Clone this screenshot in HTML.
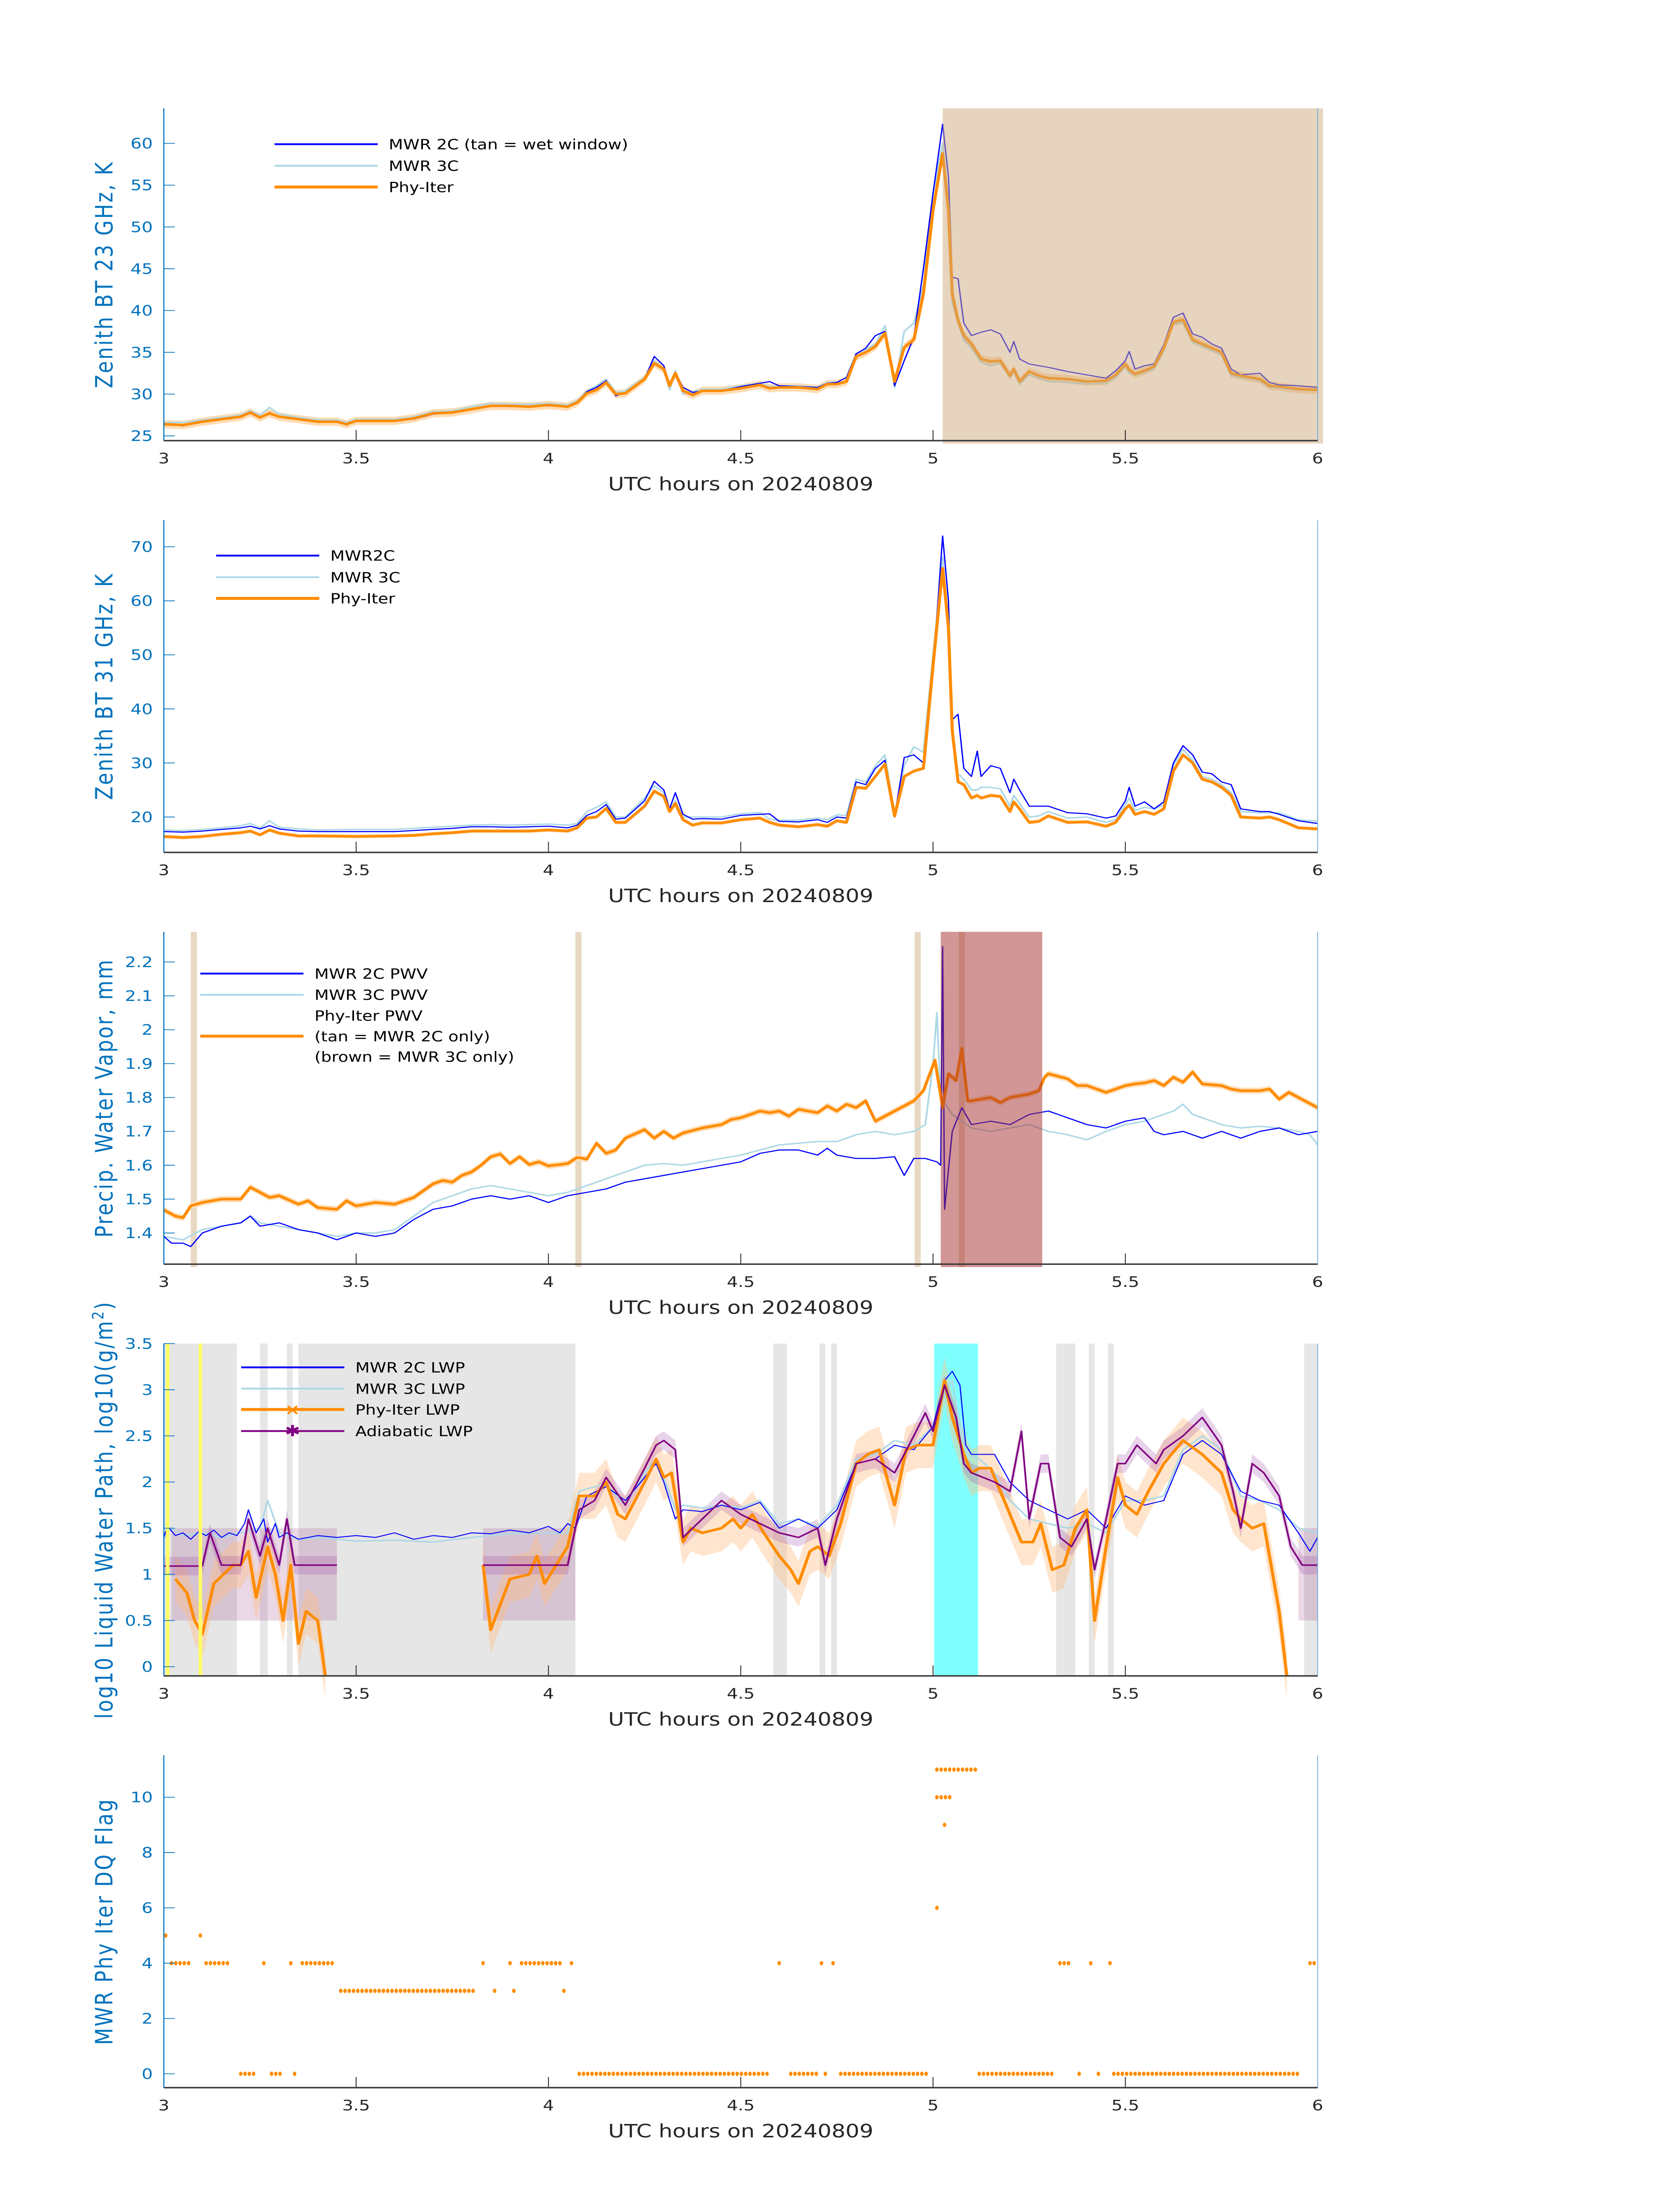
<!DOCTYPE html>
<html><head><meta charset="utf-8"><title>MWR Phy-Iter diagnostics 20240809</title>
<style>html,body{margin:0;padding:0;background:#fff;width:100%;height:100%;overflow:hidden}svg{display:block;position:absolute;left:0;top:0;width:100vw;height:100vh;overflow:hidden}text{font-family:"DejaVu Sans","Liberation Sans",sans-serif}</style>
</head><body>
<svg id="fig" xmlns="http://www.w3.org/2000/svg" viewBox="0 0 3825 6000" preserveAspectRatio="none"></svg>
<script>
// ---------- Panel 1: 23 GHz ----------
const t23 = [3.0,3.05,3.1,3.15,3.2,3.225,3.25,3.275,3.3,3.35,3.4,3.45,3.475,3.5,3.55,3.6,3.65,3.7,3.75,3.8,3.85,3.9,3.95,4.0,4.05,4.075,4.1,4.125,4.15,4.175,4.2,4.25,4.275,4.3,4.315,4.33,4.35,4.375,4.4,4.45,4.5,4.55,4.575,4.6,4.65,4.7,4.725,4.75,4.775,4.8,4.825,4.85,4.875,4.9,4.925,4.95,4.975,5.0,5.025,5.04,5.05,5.065,5.08,5.1,5.125,5.15,5.175,5.2,5.21,5.225,5.25,5.275,5.3,5.35,5.4,5.45,5.475,5.5,5.51,5.525,5.55,5.575,5.6,5.625,5.65,5.675,5.7,5.725,5.75,5.775,5.8,5.85,5.875,5.9,5.95,6.0];
const phy23 = [26.4,26.3,26.7,27.0,27.3,27.8,27.2,27.7,27.3,27.0,26.7,26.7,26.4,26.8,26.8,26.8,27.1,27.7,27.8,28.2,28.6,28.6,28.5,28.7,28.5,29.0,30.1,30.5,31.4,30.0,30.1,31.8,33.7,33.0,31.0,32.5,30.4,29.9,30.4,30.4,30.7,31.1,30.7,30.8,30.8,30.6,31.2,31.2,31.5,34.5,35.0,35.7,37.3,31.5,35.6,36.5,42.0,52,58.8,52,42,38.8,37.0,36.0,34.2,33.9,34.0,32.2,33.0,31.5,32.7,32.2,31.9,31.8,31.5,31.6,32.3,33.6,32.9,32.4,32.8,33.3,35.5,38.6,38.9,36.5,36.0,35.5,35.0,32.5,32.2,31.8,31.0,30.9,30.6,30.5];
const c2_23 = [26.4,26.2,26.7,27.0,27.3,27.9,27.2,27.8,27.3,27.0,26.7,26.7,26.3,26.8,26.8,26.8,27.0,27.6,27.8,28.2,28.6,28.5,28.6,28.6,28.5,29.0,30.3,30.8,31.6,29.8,30.2,31.8,34.5,33.4,31.2,32.6,30.8,30.2,30.4,30.4,30.9,31.3,31.5,31.0,30.9,30.8,31.3,31.4,32.0,34.8,35.5,37.0,37.5,31.0,34.0,36.8,45,54,62.3,56,44,43.8,38.5,37.0,37.4,37.7,37.2,35.0,36.3,34.2,33.6,33.4,33.2,32.7,32.3,31.9,32.8,34.0,35.1,33.0,33.4,33.6,35.9,39.2,39.7,37.2,36.8,36.0,35.5,33.0,32.3,32.5,31.4,31.1,31.0,30.8];
const c3_23 = [26.6,26.6,26.9,27.2,27.5,28.0,27.5,28.4,27.6,27.2,26.9,26.9,26.6,27.0,27.0,27.0,27.3,27.9,28.0,28.5,28.9,28.8,28.8,28.9,28.7,29.2,30.4,31.0,31.8,30.2,30.4,32.0,34.0,33.0,30.5,32.8,30.0,30.3,30.6,30.6,31.0,31.3,30.9,31.0,31.0,30.8,31.4,31.4,31.5,34.9,35.3,36.0,38.2,30.8,37.5,38.5,43,54,60,52,41,38.5,36.5,35.5,33.8,33.4,33.7,32.0,32.6,31.2,32.3,31.9,31.5,31.4,31.2,31.3,32.0,33.3,32.5,32.3,32.6,33.0,35.2,38.4,38.5,36.2,35.7,35.2,34.7,32.2,32.0,31.6,30.8,30.7,30.5,30.4];
const yTicks23 = [25,30,35,40,45,50,55,60];
// ---------- Panel 2: 31 GHz ----------
const t31 = [3.0,3.05,3.1,3.15,3.2,3.225,3.25,3.275,3.3,3.35,3.4,3.5,3.6,3.65,3.7,3.75,3.8,3.85,3.9,3.95,4.0,4.05,4.075,4.1,4.125,4.15,4.175,4.2,4.25,4.275,4.3,4.315,4.33,4.35,4.375,4.4,4.45,4.5,4.55,4.575,4.6,4.65,4.7,4.725,4.75,4.775,4.8,4.825,4.85,4.875,4.9,4.925,4.95,4.975,5.0,5.025,5.04,5.05,5.065,5.08,5.1,5.115,5.125,5.15,5.175,5.2,5.21,5.225,5.25,5.275,5.3,5.35,5.4,5.45,5.475,5.5,5.51,5.525,5.55,5.575,5.6,5.625,5.65,5.675,5.7,5.725,5.75,5.775,5.8,5.85,5.875,5.9,5.95,6.0];
const phy31 = [16.4,16.2,16.4,16.8,17.1,17.4,16.7,17.6,17.0,16.5,16.5,16.4,16.5,16.6,16.9,17.1,17.4,17.4,17.4,17.4,17.6,17.4,18.0,19.8,20.0,21.6,19.0,19.0,22.0,24.8,23.8,21.0,22.5,19.5,18.5,18.9,18.9,19.5,19.8,19.0,18.5,18.2,18.6,18.3,19.3,19.0,25.5,25.3,27.5,29.8,20.2,27.5,28.5,29.0,48,66,55,36,26.5,26.0,23.5,24.0,23.5,24.0,23.8,21.0,22.8,21.5,19.0,19.2,20.2,19.0,19.1,18.3,19.0,21.5,22.2,20.5,21.0,20.5,21.5,28.5,31.5,30.0,27.0,26.5,25.5,24.0,20.0,19.8,20.0,19.5,18.0,17.8];
const c2_31 = [17.3,17.2,17.4,17.7,18.0,18.3,17.8,18.4,17.8,17.4,17.3,17.3,17.3,17.5,17.7,17.9,18.2,18.2,18.1,18.2,18.3,18.0,18.5,20.3,21.0,22.3,19.6,19.8,23.0,26.6,25.0,21.5,24.5,20.5,19.6,19.7,19.6,20.3,20.5,20.6,19.2,19.1,19.5,19.0,20.0,19.8,26.5,26.0,29.0,30.5,20.0,31.0,31.5,30.0,47,72,60,38,39,29.0,27.5,32.2,27.5,29.5,29.0,24.5,27.0,25.0,22.0,22.0,22.0,20.8,20.6,19.8,20.2,23.0,25.5,22.0,22.8,21.5,22.8,30.0,33.2,31.5,28.3,28.0,26.5,26.0,21.5,21.0,21.0,20.5,19.3,18.8];
const c3_31 = [17.6,17.5,17.7,18.0,18.4,18.8,18.0,19.3,18.1,17.8,17.6,17.7,17.7,17.9,18.1,18.3,18.5,18.6,18.5,18.6,18.7,18.5,18.8,21.0,21.8,22.8,20.0,20.0,23.5,25.8,24.5,21.0,23.0,20.0,20.0,20.0,20.0,20.6,20.8,19.6,19.4,19.4,19.8,19.5,20.4,20.3,27.0,26.5,29.5,31.5,20.5,29.5,33.0,32.0,50,68,55,36,28,27.0,25.0,25.0,25.5,25.5,25.2,22.0,24.0,22.5,20.0,20.2,21.0,19.8,20.0,19.0,19.5,22.3,23.5,21.2,21.8,21.5,22.3,29.5,32.5,30.5,27.5,27.0,26.0,24.5,21.0,20.8,20.8,20.8,19.5,19.2];
const yTicks31 = [20,30,40,50,60,70];
// ---------- Panel 3: PWV ----------
const tPhyPwv = [3.0,3.03,3.05,3.07,3.1,3.15,3.2,3.225,3.25,3.275,3.3,3.35,3.375,3.4,3.45,3.475,3.5,3.55,3.6,3.65,3.7,3.725,3.75,3.775,3.8,3.825,3.85,3.875,3.9,3.925,3.95,3.975,4.0,4.05,4.075,4.1,4.125,4.15,4.175,4.2,4.25,4.275,4.3,4.325,4.35,4.4,4.45,4.475,4.5,4.55,4.575,4.6,4.625,4.65,4.7,4.725,4.75,4.775,4.8,4.825,4.85,4.875,4.95,4.975,5.005,5.025,5.04,5.06,5.075,5.09,5.1,5.15,5.175,5.2,5.25,5.275,5.29,5.3,5.35,5.375,5.4,5.45,5.475,5.5,5.525,5.55,5.575,5.6,5.625,5.65,5.675,5.7,5.75,5.775,5.8,5.85,5.875,5.9,5.925,5.95,6.0];
const phyPwv = [1.468,1.45,1.445,1.48,1.49,1.50,1.50,1.535,1.52,1.505,1.51,1.485,1.495,1.475,1.47,1.495,1.48,1.49,1.485,1.505,1.545,1.555,1.55,1.57,1.58,1.60,1.625,1.633,1.605,1.625,1.602,1.61,1.598,1.605,1.623,1.618,1.665,1.635,1.645,1.68,1.705,1.68,1.70,1.68,1.695,1.71,1.72,1.735,1.74,1.76,1.755,1.76,1.745,1.765,1.755,1.775,1.76,1.78,1.77,1.79,1.73,1.745,1.79,1.82,1.91,1.77,1.87,1.85,1.945,1.79,1.79,1.80,1.785,1.80,1.81,1.82,1.86,1.87,1.855,1.835,1.835,1.815,1.825,1.835,1.84,1.843,1.85,1.835,1.86,1.845,1.875,1.84,1.835,1.825,1.82,1.82,1.825,1.795,1.815,1.80,1.77];
const t2cPwv = [3.0,3.02,3.05,3.07,3.1,3.15,3.2,3.225,3.25,3.3,3.35,3.4,3.45,3.5,3.55,3.6,3.65,3.7,3.75,3.8,3.85,3.9,3.95,4.0,4.05,4.1,4.15,4.2,4.25,4.3,4.35,4.4,4.45,4.5,4.55,4.6,4.65,4.7,4.725,4.75,4.8,4.85,4.9,4.925,4.95,4.98,5.01,5.02,5.025,5.03,5.05,5.075,5.1,5.15,5.2,5.25,5.3,5.35,5.4,5.45,5.5,5.55,5.575,5.6,5.65,5.7,5.75,5.8,5.85,5.9,5.95,6.0];
const c2Pwv = [1.39,1.37,1.37,1.36,1.40,1.42,1.43,1.45,1.42,1.43,1.41,1.40,1.38,1.40,1.39,1.40,1.44,1.47,1.48,1.50,1.51,1.50,1.51,1.49,1.51,1.52,1.53,1.55,1.56,1.57,1.58,1.59,1.60,1.61,1.635,1.645,1.645,1.63,1.65,1.63,1.62,1.62,1.625,1.57,1.62,1.62,1.61,1.60,2.245,1.47,1.70,1.77,1.72,1.73,1.72,1.75,1.76,1.74,1.72,1.71,1.73,1.74,1.70,1.69,1.70,1.68,1.70,1.68,1.70,1.71,1.69,1.70];
const t3cPwv = [3.0,3.05,3.1,3.15,3.2,3.225,3.25,3.3,3.35,3.4,3.45,3.5,3.55,3.6,3.65,3.7,3.75,3.8,3.85,3.9,3.95,4.0,4.05,4.1,4.15,4.2,4.25,4.3,4.35,4.4,4.45,4.5,4.55,4.6,4.65,4.7,4.75,4.8,4.85,4.9,4.95,4.98,5.0,5.01,5.02,5.05,5.1,5.15,5.2,5.25,5.3,5.35,5.4,5.45,5.5,5.55,5.6,5.625,5.65,5.675,5.7,5.75,5.8,5.85,5.9,5.95,5.98,6.0];
const c3Pwv = [1.39,1.38,1.41,1.42,1.43,1.45,1.43,1.42,1.41,1.40,1.39,1.40,1.40,1.41,1.45,1.49,1.51,1.53,1.54,1.53,1.52,1.51,1.52,1.54,1.56,1.58,1.60,1.605,1.60,1.61,1.62,1.63,1.645,1.66,1.665,1.67,1.67,1.69,1.70,1.69,1.70,1.72,1.90,2.05,1.80,1.75,1.71,1.70,1.71,1.72,1.70,1.69,1.675,1.70,1.72,1.73,1.75,1.76,1.78,1.75,1.74,1.72,1.71,1.715,1.71,1.70,1.69,1.66];
const tanWindowsPwv = [3.078,4.078,4.96,5.075];
const brownStart = 5.02, brownEnd = 5.284;
const yTicksPwv = [1.4,1.5,1.6,1.7,1.8,1.9,2.0,2.1,2.2];
// ---------- Panel 4: LWP ----------
const t2cLwp = [3.0,3.01,3.03,3.05,3.07,3.09,3.11,3.13,3.15,3.17,3.19,3.21,3.22,3.24,3.26,3.27,3.29,3.3,3.32,3.35,3.4,3.45,3.5,3.55,3.6,3.65,3.7,3.75,3.8,3.85,3.9,3.95,4.0,4.03,4.05,4.07,4.1,4.15,4.2,4.25,4.28,4.3,4.33,4.35,4.4,4.45,4.5,4.55,4.6,4.65,4.7,4.75,4.8,4.85,4.9,4.95,5.0,5.03,5.05,5.07,5.085,5.1,5.13,5.16,5.2,5.25,5.3,5.35,5.4,5.45,5.5,5.55,5.6,5.65,5.7,5.75,5.8,5.85,5.9,5.95,5.98,6.0];
const c2Lwp = [1.4,1.52,1.42,1.45,1.38,1.46,1.42,1.48,1.40,1.45,1.42,1.55,1.70,1.45,1.60,1.35,1.55,1.40,1.45,1.38,1.42,1.40,1.42,1.40,1.45,1.38,1.42,1.40,1.45,1.44,1.48,1.45,1.52,1.45,1.55,1.5,1.85,1.95,1.8,2.05,2.2,2.0,1.6,1.7,1.68,1.75,1.7,1.78,1.5,1.6,1.5,1.7,2.2,2.25,2.4,2.35,2.6,3.1,3.2,3.05,2.4,2.3,2.3,2.3,2.0,1.8,1.7,1.6,1.7,1.5,1.85,1.75,1.8,2.3,2.45,2.3,1.9,1.8,1.75,1.45,1.25,1.4];
const t3cLwp = [3.0,3.02,3.05,3.1,3.15,3.2,3.25,3.27,3.3,3.35,3.4,3.5,3.6,3.7,3.8,3.9,4.0,4.05,4.08,4.12,4.15,4.2,4.25,4.28,4.3,4.33,4.35,4.4,4.45,4.5,4.55,4.6,4.65,4.7,4.75,4.8,4.85,4.9,4.95,5.0,5.03,5.05,5.07,5.09,5.12,5.16,5.2,5.25,5.3,5.35,5.4,5.45,5.5,5.55,5.6,5.65,5.7,5.75,5.8,5.85,5.9,5.95,6.0];
const c3Lwp = [1.38,1.5,1.42,1.45,1.40,1.45,1.5,1.8,1.45,1.38,1.40,1.36,1.37,1.35,1.40,1.44,1.45,1.45,1.9,1.95,1.98,1.75,2.1,2.25,2.05,1.7,1.75,1.72,1.75,1.72,1.8,1.55,1.6,1.52,1.75,2.25,2.3,2.45,2.4,2.6,3.0,3.1,2.6,2.3,2.25,2.1,1.8,1.6,1.55,1.5,1.55,1.45,1.8,1.8,1.85,2.35,2.5,2.35,1.85,1.8,1.7,1.5,1.45];
const tPhyLwp = [3.03,3.06,3.08,3.1,3.13,3.18,3.2,3.22,3.24,3.27,3.29,3.31,3.33,3.35,3.37,3.40,3.42,3.6,3.83,3.85,3.9,3.95,3.97,3.99,4.02,4.05,4.08,4.12,4.15,4.18,4.2,4.25,4.28,4.3,4.32,4.35,4.37,4.4,4.45,4.48,4.5,4.53,4.56,4.6,4.63,4.65,4.68,4.7,4.73,4.76,4.8,4.83,4.86,4.9,4.93,4.96,5.0,5.03,5.05,5.08,5.1,5.12,5.15,5.18,5.2,5.23,5.26,5.28,5.31,5.34,5.37,5.4,5.42,5.45,5.48,5.5,5.53,5.56,5.6,5.65,5.7,5.75,5.78,5.8,5.83,5.86,5.9,5.92,5.96,5.995];
const phyLwp = [0.95,0.8,0.5,0.35,0.9,1.1,1.1,1.25,0.75,1.3,1.0,0.5,1.1,0.25,0.6,0.5,-0.1,null,1.1,0.4,0.95,1.0,1.2,0.9,1.1,1.3,1.85,1.85,2.0,1.65,1.6,2.0,2.25,2.05,2.1,1.35,1.5,1.45,1.5,1.6,1.5,1.65,1.45,1.2,1.05,0.9,1.25,1.3,1.2,1.55,2.2,2.3,2.35,1.75,2.35,2.4,2.4,3.1,2.7,2.3,2.1,2.15,2.15,1.85,1.65,1.35,1.35,1.55,1.05,1.1,1.5,1.7,0.5,1.3,2.05,1.75,1.65,1.9,2.2,2.45,2.3,2.1,1.7,1.6,1.5,1.55,0.6,-0.1,null,0.1];
const tAdiLwp = [3.0,3.1,3.12,3.15,3.2,3.22,3.25,3.27,3.3,3.32,3.34,3.45,3.6,3.83,4.05,4.08,4.12,4.15,4.2,4.25,4.28,4.3,4.33,4.35,4.4,4.45,4.5,4.55,4.6,4.65,4.7,4.72,4.75,4.8,4.85,4.9,4.95,4.98,5.0,5.03,5.06,5.08,5.1,5.13,5.16,5.2,5.23,5.25,5.28,5.3,5.33,5.36,5.4,5.42,5.45,5.48,5.5,5.53,5.58,5.6,5.65,5.7,5.75,5.78,5.8,5.83,5.86,5.9,5.93,5.96,6.0];
const adiLwp = [1.09,1.09,1.45,1.1,1.1,1.6,1.2,1.5,1.1,1.6,1.1,1.1,null,1.1,1.1,1.7,1.8,2.05,1.75,2.15,2.4,2.45,2.35,1.4,1.6,1.8,1.65,1.55,1.45,1.4,1.5,1.1,1.6,2.2,2.25,2.1,2.5,2.75,2.55,3.05,2.7,2.2,2.1,2.05,2.0,1.9,2.55,1.6,2.2,2.2,1.4,1.3,1.6,1.05,1.6,2.2,2.2,2.4,2.2,2.35,2.5,2.7,2.4,1.9,1.5,2.2,2.1,1.85,1.3,1.1,1.1];
const grayStartLwp = [3.0,3.25,3.32,3.35,4.585,4.705,4.735,5.32,5.405,5.455,5.965];
const grayEndLwp = [3.19,3.27,3.335,4.07,4.62,4.72,4.75,5.37,5.42,5.47,6.0];
const yellowLwp = [3.01,3.095];
const cyanStart = 5.003, cyanEnd = 5.117;
const flatBandStart = [3.02,3.83,5.95], flatBandEnd = [3.45,4.07,6.0];
const yTicksLwp = [0,0.5,1,1.5,2,2.5,3,3.5];
// ---------- Panel 5: DQ flag (runs) ----------
const flagRunStart = [3.005,3.095,3.02,3.11,3.26,3.33,3.36,3.83,3.9,3.93,4.06,4.6,4.71,4.74,5.33,5.41,5.46,5.98,3.46,3.86,3.91,4.04,3.2,3.28,3.34,4.08,4.63,4.72,4.76,5.12,5.38,5.43,5.47,5.01,5.03,5.01,5.01];
const flagRunEnd   = [3.005,3.095,3.07,3.17,3.26,3.33,3.44,3.84,3.9,4.03,4.06,4.61,4.71,4.74,5.36,5.41,5.46,6.0,3.81,3.87,3.91,4.04,3.24,3.31,3.34,4.57,4.7,4.72,4.99,5.31,5.38,5.43,5.95,5.02,5.04,5.05,5.11];
const flagRunValue = [5,5,4,4,4,4,4,4,4,4,4,4,4,4,4,4,4,4,3,3,3,3,0,0,0,0,0,0,0,0,0,0,0,6,9,10,11];
const flagStep = 0.0111;
const yTicksFlag = [0,2,4,6,8,10];
const xTicks = [3,3.5,4,4.5,5,5.5,6];

// ---------- drawing ----------
const NS = "http://www.w3.org/2000/svg";
const svg = document.getElementById('fig');
const PL = 373, PR = 3000, PH = 908;
const X = t => PL + (t - 3) / 3 * (PR - PL);
const BLUE = '#0072BD';
function el(tag, attrs, parent) {
  const e = document.createElementNS(NS, tag);
  for (const k in attrs) e.setAttribute(k, attrs[k]);
  (parent || svg).appendChild(e);
  return e;
}
function mkY(top, lo, hi) { return v => top + PH - (v - lo) / (hi - lo) * PH; }
function pathD(ts, vs, Y) {
  let d = '', pen = false;
  const n = Math.min(ts.length, vs.length);
  for (let i = 0; i < n; i++) {
    if (vs[i] === null) { pen = false; continue; }
    d += (pen ? 'L' : 'M') + X(ts[i]).toFixed(1) + ' ' + Y(vs[i]).toFixed(1);
    pen = true;
  }
  return d;
}
function bandD(ts, vs, Y, w) {
  const segs = []; let cur = [];
  const n = Math.min(ts.length, vs.length);
  for (let i = 0; i < n; i++) { if (vs[i] === null) { if (cur.length) segs.push(cur); cur = []; } else cur.push(i); }
  if (cur.length) segs.push(cur);
  let d = '';
  segs.forEach(s => {
    if (s.length < 2) return;
    d += 'M' + s.map(i => X(ts[i]).toFixed(1) + ' ' + Y(vs[i] + w).toFixed(1)).join('L');
    d += 'L' + s.slice().reverse().map(i => X(ts[i]).toFixed(1) + ' ' + Y(vs[i] - w).toFixed(1)).join('L') + 'Z';
  });
  return d;
}
function axes(g, top, Y, yTicks, ylabel, fmt) {
  const bot = top + PH;
  xTicks.forEach(t => {
    const tk = el('line', {x1: X(t), x2: X(t), y1: bot, y2: bot - 29, stroke: '#262626', 'stroke-width': 2}, g);
    
    
    const tl = el('text', {x: X(t), y: bot + 62, 'font-size': 40, fill: '#262626', 'text-anchor': 'middle'}, g);
    tl.textContent = String(t);
    
    
  });
  yTicks.forEach(v => {
    const tk = el('line', {x1: PL, x2: PL + 25, y1: Y(v), y2: Y(v), stroke: BLUE, 'stroke-width': 2}, g);
    
    
    const tl = el('text', {x: 348, y: Y(v) + 14, 'font-size': 40, fill: BLUE, 'text-anchor': 'end'}, g);
    tl.textContent = fmt ? fmt(v) : String(v);
    
    
  });
  const ls = el('line', {x1: PL, x2: PL, y1: top, y2: bot, stroke: BLUE, 'stroke-width': 2.5}, g);
  
  
  const rs = el('line', {x1: PR, x2: PR, y1: top, y2: bot, stroke: '#7fb2dd', 'stroke-width': 2}, g);
  
  
  const bs = el('line', {x1: PL, x2: PR, y1: bot, y2: bot, stroke: '#3a3a3a', 'stroke-width': 4}, g);
  
  
  const xl = el('text', {x: (PL + PR) / 2, y: bot + 136, 'font-size': 50, fill: '#262626', 'text-anchor': 'middle'}, g);
  xl.textContent = 'UTC hours on 20240809';
  
  
  const yl = el('text', {x: 0, y: 0, 'font-size': 54, 'letter-spacing': 4, fill: BLUE, 'text-anchor': 'middle', transform: `translate(256 ${top + PH / 2}) rotate(-90)`}, g);
  if (typeof ylabel === 'string') yl.textContent = ylabel; else ylabel(yl);
  
  
}
function legend(g, x0, rows) {
  rows.forEach(r => {
    if (r.color) {
      const ln = el('line', {x1: x0, x2: x0 + 235, y1: r.y, y2: r.y, stroke: r.color, 'stroke-width': r.w}, g);
      
      
      if (r.marker) {
        const mk = el('text', {x: x0 + 117, y: r.y + 14, 'font-size': 42, fill: r.color, 'text-anchor': 'middle', 'font-weight': 'bold'}, g);
        mk.textContent = r.marker;
        
        
      }
    }
    const tx = el('text', {x: x0 + 260, y: r.y + 14, 'font-size': 38, fill: '#000'}, g);
    tx.textContent = r.label;
    
    
  });
}
function series(g, ts, vs, Y, color, w, name) {
  const p = el('path', {d: pathD(ts, vs, Y), fill: 'none', stroke: color, 'stroke-width': w, 'stroke-linejoin': 'round'}, g);
  
  
  return p;
}
function band(g, ts, vs, Y, w, fill, name) {
  const p = el('path', {d: bandD(ts, vs, Y, w), fill: fill, stroke: 'none'}, g);
  
  
}
function panelGroup(name) {
  const g = el('g', {});
  
  
  return g;
}

// Panel 1
(function () {
  const top = 296, Y = mkY(top, 24.43, 64.19), g = panelGroup('panel-23ghz');
  band(g, t23, phy23, Y, 0.5, '#ffdcb5', 'phy-iter-uncertainty-band');
  series(g, t23, c3_23, Y, '#ADD8E6', 4, 'mwr-3c-line');
  series(g, t23, c2_23, Y, '#0000FF', 3, 'mwr-2c-line');
  series(g, t23, phy23, Y, '#FF8C00', 7, 'phy-iter-line');
  const tan = el('rect', {x: X(5.025), y: top, width: X(6.014) - X(5.025), height: PH + 8, fill: 'rgb(205,170,125)', 'fill-opacity': 0.5}, g);
  
  
  axes(g, top, Y, yTicks23, 'Zenith BT 23 GHz, K');
  legend(g, 625, [{y: 394, color: '#0000FF', w: 5, label: 'MWR 2C (tan = wet window)'}, {y: 453, color: '#ADD8E6', w: 5, label: 'MWR 3C'}, {y: 511, color: '#FF8C00', w: 8, label: 'Phy-Iter'}]);
})();
// Panel 2
(function () {
  const top = 1421, Y = mkY(top, 13.45, 74.94), g = panelGroup('panel-31ghz');
  band(g, t31, phy31, Y, 0.35, '#ffdcb5', 'phy-iter-uncertainty-band');
  series(g, t31, c3_31, Y, '#ADD8E6', 4, 'mwr-3c-line');
  series(g, t31, c2_31, Y, '#0000FF', 3, 'mwr-2c-line');
  series(g, t31, phy31, Y, '#FF8C00', 7, 'phy-iter-line');
  axes(g, top, Y, yTicks31, 'Zenith BT 31 GHz, K');
  legend(g, 492, [{y: 1518, color: '#0000FF', w: 5, label: 'MWR2C'}, {y: 1577, color: '#ADD8E6', w: 5, label: 'MWR 3C'}, {y: 1635, color: '#FF8C00', w: 8, label: 'Phy-Iter'}]);
})();
// Panel 3
(function () {
  const top = 2546, Y = mkY(top, 1.308, 2.289), g = panelGroup('panel-pwv');
  tanWindowsPwv.forEach(t => {
    const r = el('rect', {x: X(t) - 7, y: top, width: 14, height: PH + 8, fill: '#e8d8c3'}, g);
    
    
  });
  band(g, tPhyPwv, phyPwv, Y, 0.009, '#ffdcb5', 'phy-iter-uncertainty-band');
  series(g, t3cPwv, c3Pwv, Y, '#ADD8E6', 4, 'mwr-3c-pwv-line');
  series(g, t2cPwv, c2Pwv, Y, '#0000FF', 3, 'mwr-2c-pwv-line');
  series(g, tPhyPwv, phyPwv, Y, '#FF8C00', 7, 'phy-iter-pwv-line');
  const br = el('rect', {x: X(brownStart), y: top, width: X(brownEnd) - X(brownStart), height: PH + 8, fill: 'rgb(165,45,45)', 'fill-opacity': 0.5}, g);
  
  
  axes(g, top, Y, yTicksPwv, 'Precip. Water Vapor, mm', v => (Math.round(v * 10) / 10).toString());
  legend(g, 456, [{y: 2660, color: '#0000FF', w: 5, label: 'MWR 2C PWV'}, {y: 2718, color: '#ADD8E6', w: 5, label: 'MWR 3C PWV'}, {y: 2775, label: 'Phy-Iter PWV'}, {y: 2831, color: '#FF8C00', w: 8, label: '(tan = MWR 2C only)'}, {y: 2887, label: '(brown = MWR 3C only)'}]);
})();
// Panel 4
(function () {
  const top = 3671, Y = mkY(top, -0.1, 3.5), g = panelGroup('panel-lwp');
  grayStartLwp.forEach((s, i) => {
    const r = el('rect', {x: X(s), y: top, width: X(grayEndLwp[i]) - X(s), height: PH, fill: '#e6e6e6'}, g);
    
    
  });
  const cy = el('rect', {x: X(cyanStart), y: top, width: X(cyanEnd) - X(cyanStart), height: PH, fill: '#80ffff'}, g);
  
  
  flatBandStart.forEach((s, i) => {
    const r = el('rect', {x: X(s), y: Y(1.5), width: X(flatBandEnd[i]) - X(s), height: Y(0.5) - Y(1.5), fill: 'rgb(150,60,130)', 'fill-opacity': 0.2}, g);
    
    
  });
  band(g, tPhyLwp, phyLwp, Y, 0.25, 'rgba(255,190,130,0.4)', 'phy-iter-uncertainty-band');
  band(g, tAdiLwp, adiLwp, Y, 0.1, 'rgba(150,60,160,0.22)', 'adiabatic-uncertainty-band');
  series(g, t3cLwp, c3Lwp, Y, '#ADD8E6', 4, 'mwr-3c-lwp-line');
  series(g, t2cLwp, c2Lwp, Y, '#0000FF', 2.5, 'mwr-2c-lwp-line');
  series(g, tPhyLwp, phyLwp, Y, '#FF8C00', 7, 'phy-iter-lwp-line');
  series(g, tAdiLwp, adiLwp, Y, '#800080', 4, 'adiabatic-lwp-line');
  yellowLwp.forEach(t => {
    const r = el('rect', {x: X(t) - 4, y: top, width: 8, height: PH, fill: '#ffff66'}, g);
    
    
  });
  axes(g, top, Y, yTicksLwp, yl => {
    yl.textContent = 'log10 Liquid Water Path, log10(g/m';
    const sup = el('tspan', {'baseline-shift': 'super', 'font-size': 36}, yl);
    sup.textContent = '2';
    const cl = el('tspan', {}, yl);
    cl.textContent = ')';
  });
  legend(g, 549, [{y: 3736, color: '#0000FF', w: 5, label: 'MWR 2C LWP'}, {y: 3794, color: '#ADD8E6', w: 5, label: 'MWR 3C LWP'}, {y: 3851, color: '#FF8C00', w: 8, label: 'Phy-Iter LWP', marker: '×'}, {y: 3910, color: '#800080', w: 5, label: 'Adiabatic LWP', marker: '✱'}]);
})();
// Panel 5
(function () {
  const top = 4796, Y = mkY(top, -0.502, 11.515), g = panelGroup('panel-dq-flag');
  flagRunStart.forEach((s, i) => {
    for (let t = s; t <= flagRunEnd[i] + 1e-6; t += flagStep) {
      const d = el('ellipse', {cx: X(t), cy: Y(flagRunValue[i]), rx: 4, ry: 6, fill: '#FF8C00'}, g);
      
      
    }
  });
  axes(g, top, Y, yTicksFlag, 'MWR Phy Iter DQ Flag');
})();
</script>
</body></html>
